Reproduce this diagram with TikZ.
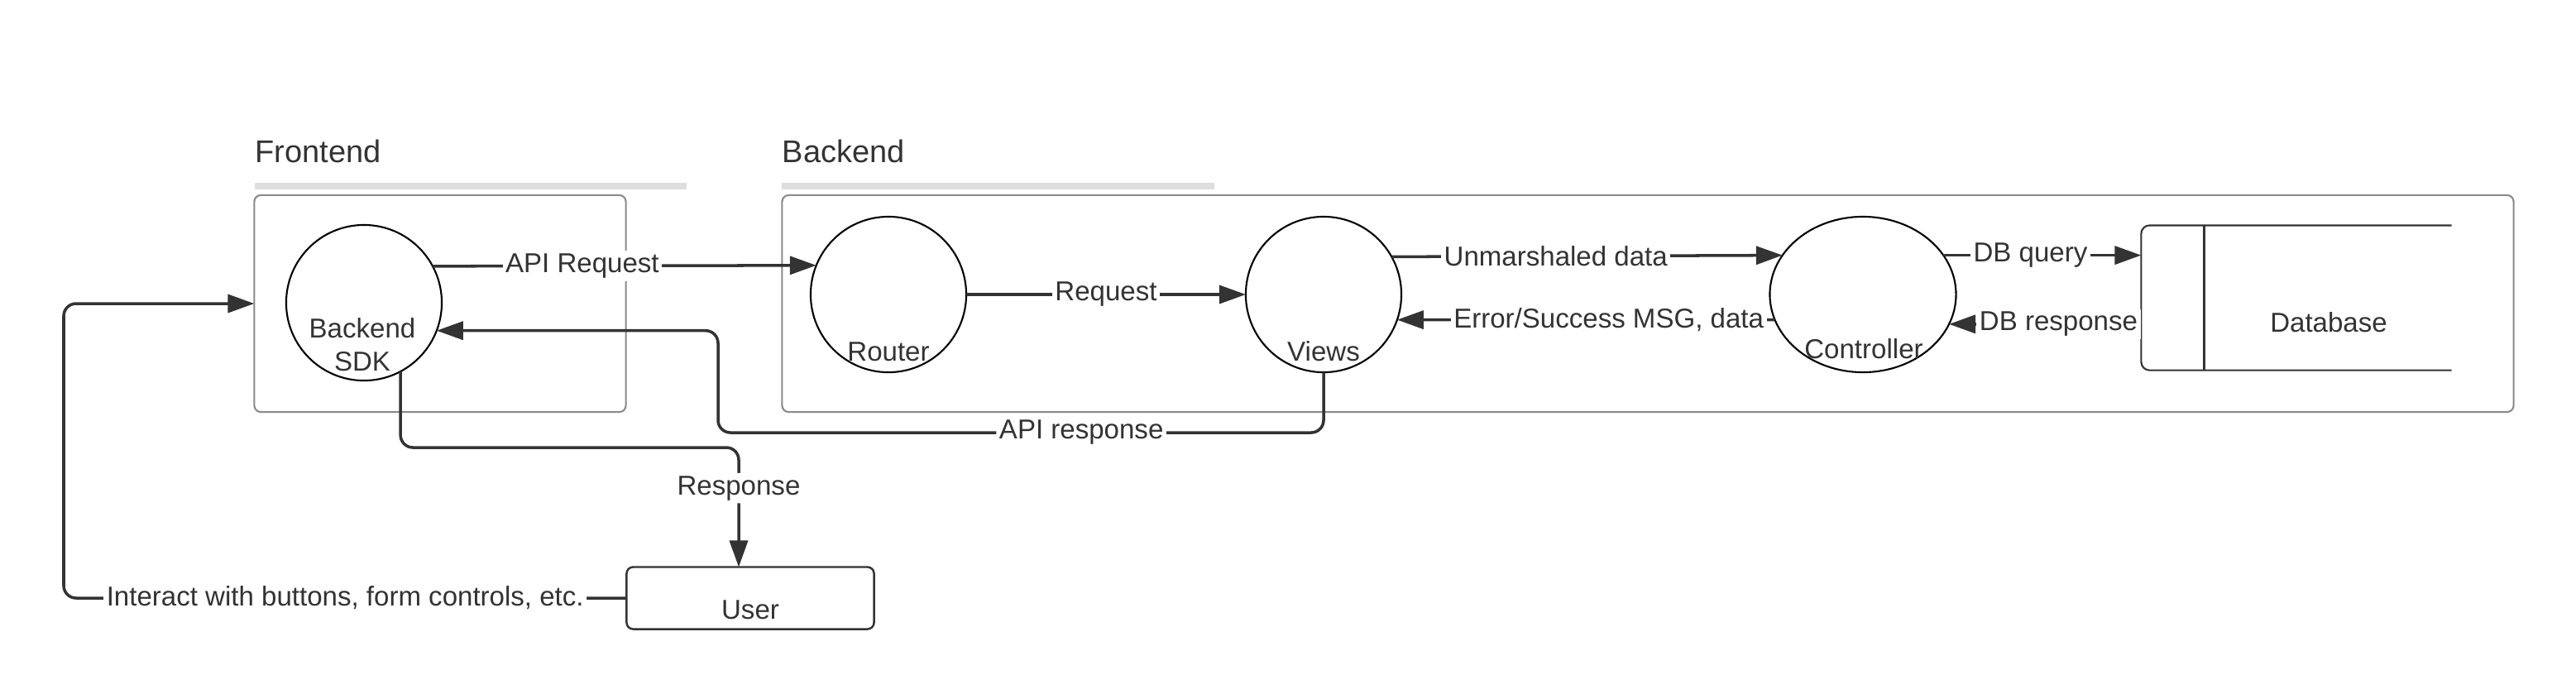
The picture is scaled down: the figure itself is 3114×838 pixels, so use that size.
\documentclass[tikz,border=0pt]{standalone}
\usepackage{fontspec}
\setmainfont{Liberation Sans}
\usetikzlibrary{arrows.meta,shapes.geometric}
\definecolor{ink}{HTML}{333333}
\definecolor{boxline}{HTML}{8A8A8A}
\definecolor{barfill}{HTML}{DEDEDE}

\begin{document}
\begin{tikzpicture}[x=0.01cm,y=-0.01cm,
  every node/.style={text=ink,font=\fontsize{9.4}{11.4}\selectfont},
  title/.style={anchor=west,inner sep=0pt,font=\fontsize{10.8}{13}\selectfont},
  bar/.style={barfill,line width=2.2pt},
  zone/.style={draw=boxline,line width=0.6pt,rounded corners=0.8mm,inner sep=0pt,outer sep=0pt,minimum height=2.62cm},
  proc/.style={circle,draw=black,line width=0.6pt,minimum size=1.88cm,inner sep=0pt,outer sep=0pt},
  store/.style={draw=ink,line width=0.6pt,rounded corners=1mm},
  userbox/.style={draw=ink,line width=0.7pt,rounded corners=0.8mm,minimum width=2.99cm,minimum height=0.75cm,inner sep=0pt,outer sep=0pt},
  flow/.style={draw=ink,line width=1pt,-{Triangle[length=3.2mm,width=2.2mm]}},
  lbl/.style={fill=white,inner sep=1pt}]
  \useasboundingbox (0,0) rectangle (3114,838);

  % titles and grey rules
  \node[title] (fronttitle) at (308,183) {Frontend};
  \node[title] (backtitle) at (945,183) {Backend};
  \draw[bar] (308,225) -- (830,225);
  \draw[bar] (945,225) -- (1468,225);

  % zones
  \node[zone,minimum width=4.49cm] (frontbox) at (532,367) {};
  \node[zone,minimum width=20.92cm] (backbox) at (1992,367) {};

  % processes
  \node[proc] (sdk) at (440,366) {};
  \node[proc] (router) at (1074,356) {};
  \node[proc] (views) at (1600,356) {};
  \node[proc,ellipse,minimum width=2.25cm] (ctrl) at (2252,356) {};
  \node[align=center] (sdklbl) at (438,417) {Backend\\SDK};
  \node (routerlbl) at (1074,425) {Router};
  \node (viewslbl) at (1600,425) {Views};
  \node (ctrllbl) at (2253,422) {Controller};

  % store and user
  \node[minimum width=3.75cm,minimum height=1.75cm,inner sep=0pt,outer sep=0pt] (db) at (2776,360) {};
  \draw[store] (db.north east) -- (db.north west) -- (db.south west) -- (db.south east);
  \draw[draw=ink,line width=0.6pt] ([xshift=0.76cm]db.north west) -- ([xshift=0.76cm]db.south west);
  \node (dblbl) at (2815,390) {Database};
  \node[userbox] (user) at (907,723) {};
  \node (userlbl) at (907,737) {User};

  % requests
  \draw[flow] (sdk.28.6) -- node[lbl,pos=0.39] (apireqlbl) {API Request} (router.158.6);
  \draw[flow] (router.east) -- node[lbl] (reqlbl) {Request} (views.west);
  \draw[flow] (views.29.6) -- node[lbl,pos=0.42] (unmlbl) {Unmarshaled data} (ctrl.154.9);
  \draw[flow] (ctrl.196.3) -- node[lbl,pos=0.44] (msglbl) {Error/Success MSG, data} (views.-19.5);
  \draw[flow] (ctrl.26.4) -- node[lbl,pos=0.44] (querylbl) {DB query} (ctrl.26.4 -| db.west);
  \draw[flow] (ctrl.-19.7 -| db.west) -- node[lbl,pos=0.43] (dbresplbl) {DB response} (ctrl.-19.7);

  % return paths
  \coordinate (apibend) at (868,523);
  \draw[flow,rounded corners=1.5mm] (views.south) |- node[lbl,pos=0.7] (apiresplbl) {API response} (apibend) |- (sdk.-21.2);
  \coordinate (respbend) at (893,541);
  \draw[flow,rounded corners=1.5mm] (sdk.-62.1) |- (respbend) -- node[lbl,pos=0.34] (resplbl) {Response} (respbend |- user.north);
  \coordinate (interbend) at (77,723);
  \draw[flow,rounded corners=1.5mm] (user.west) -- node[lbl] (interlbl) {Interact with buttons, form controls, etc.} (interbend) |- (frontbox.west);
\end{tikzpicture}
\end{document}
